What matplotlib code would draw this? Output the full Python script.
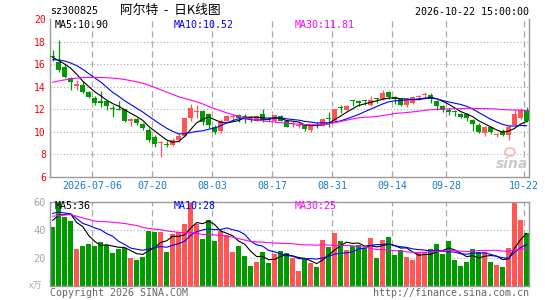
import numpy as np
import pandas as pd
import matplotlib
matplotlib.use('Agg')
import matplotlib.pyplot as plt
from matplotlib.patches import Rectangle, Ellipse

# ---- daily bars (80 trading days) ----
opens = [16.7, 16.15, 15.75, 14.75, 14.1, 14.15, 13.55, 13.0, 12.65, 12.7,
         12.15, 12.0, 12.0, 11.0, 11.1, 10.7, 10.2, 9.53, 9.0, 8.9,
         8.85, 9.24, 9.65, 11.25, 11.75, 11.85, 11.6, 10.45, 10.05, 11.0,
         11.3, 11.45, 11.4, 11.25, 11.0, 11.55, 11.1, 10.95, 11.4, 10.95,
         10.7, 10.55, 10.6, 10.2, 10.6, 10.55, 11.2, 10.95, 12.2, 11.95,
         12.75, 12.65, 12.75, 12.4, 12.95, 12.9, 13.55, 13.1, 12.9, 12.4,
         12.6, 13.05, 13.3, 13.3, 12.75, 12.25, 11.95, 11.8, 11.6, 11.6,
         11.05, 10.65, 9.9, 10.4, 9.7, 10.1, 9.7, 10.65, 11.25, 11.9]
highs = [17.25, 18.15, 16.0, 14.9, 14.6, 14.5, 13.65, 13.15, 13.65, 12.75,
         12.4, 12.75, 12.05, 11.25, 11.2, 10.8, 10.35, 9.7, 9.18, 9.15,
         9.5, 9.9, 11.25, 12.45, 12.4, 11.97, 11.7, 10.6, 11.1, 11.5,
         11.6, 11.55, 11.6, 11.4, 11.45, 12.0, 11.3, 11.5, 11.45, 11.05,
         11.0, 10.95, 10.7, 10.65, 10.85, 11.2, 11.75, 12.05, 12.4, 12.35,
         12.85, 12.85, 12.85, 13.15, 13.0, 13.7, 13.6, 13.2, 13.0, 12.95,
         13.15, 13.25, 13.5, 13.45, 12.85, 12.4, 12.1, 11.95, 11.7, 11.65,
         11.15, 10.75, 10.55, 10.45, 9.9, 10.25, 10.65, 12.0, 12.1, 12.2]
lows = [16.3, 15.3, 14.8, 13.7, 13.7, 13.45, 13.0, 12.4, 12.2, 11.9,
        11.35, 11.95, 10.9, 10.5, 10.65, 10.2, 9.1, 8.65, 7.76, 8.65,
        8.76, 9.1, 9.6, 11.0, 11.2, 10.65, 10.35, 9.85, 9.9, 10.95,
        11.0, 10.85, 10.8, 10.85, 10.95, 10.9, 10.95, 10.85, 10.95, 10.4,
        10.4, 10.35, 10.05, 9.95, 10.3, 10.5, 10.4, 10.85, 11.65, 11.9,
        12.3, 12.3, 12.4, 12.25, 12.6, 12.85, 12.9, 12.5, 12.25, 12.2,
        12.5, 12.85, 12.95, 12.6, 11.95, 11.8, 11.45, 11.4, 11.25, 11.0,
        10.1, 9.9, 9.6, 9.85, 9.55, 9.6, 9.25, 10.55, 11.1, 10.85]
closes = [16.6, 15.45, 14.9, 14.4, 14.2, 13.55, 13.05, 12.6, 12.6, 12.25,
          12.0, 11.95, 10.95, 11.1, 10.8, 10.3, 9.26, 8.94, 9.05, 8.85,
          9.3, 9.6, 11.2, 12.1, 11.8, 10.85, 10.65, 10.0, 11.0, 11.44,
          11.35, 11.2, 11.35, 11.2, 11.4, 11.05, 11.05, 11.45, 11.0, 10.45,
          10.8, 10.65, 10.25, 10.6, 10.55, 11.15, 11.15, 12.0, 12.15, 12.25,
          12.7, 12.6, 12.7, 12.85, 12.9, 13.4, 13.05, 12.9, 12.4, 12.85,
          13.05, 13.1, 13.35, 12.95, 12.25, 11.9, 11.8, 11.75, 11.3, 11.2,
          10.7, 9.97, 10.4, 9.97, 9.8, 9.75, 10.4, 11.6, 11.9, 10.95]
volumes = [42, 62, 49, 46, 26, 28, 30, 28, 31, 29,
           23, 26, 27, 20, 18, 20.5, 39, 38, 38.5, 24,
           37, 38, 44, 62, 44, 33, 47, 32, 39, 36,
           24, 28, 21, 14, 17, 24, 16.5, 22.3, 24.5, 23.3,
           19.7, 10.7, 19.2, 16, 13.1, 32.5, 27.7, 37.9, 31.8, 25.2,
           28.2, 28.9, 26.9, 34.2, 19.9, 32.5, 35, 21.6, 25.2, 20.4,
           18, 23.3, 24, 26, 29.4, 22.8, 31.8, 18, 14.3, 16.7,
           26, 24, 24, 16.7, 15, 13.1, 26.9, 62, 47, 37.9]

# sessions before the window, only used to warm up the moving averages
prev_closes = [12.2, 12.0, 11.8, 12.0, 12.3, 12.6, 12.5, 12.9, 12.8, 13.1,
               13.4, 13.2, 13.8, 14.1, 14.0, 14.6, 14.9, 15.1, 15.2, 15.5,
               15.7, 15.9, 16.15, 16.5, 16.75, 16.9, 16.4, 16.3, 16.8]
prev_volumes = [46, 40, 36, 60, 66, 62, 64, 38, 36, 34,
                38, 40, 42, 38, 62, 60, 58, 46, 50, 54,
                52, 56, 52, 60, 62, 44, 46, 44.5, 56.5]

tick_idx = [7, 17, 27, 37, 47, 57, 66, 79]
tick_labels = ['2026-07-06', '07-20', '08-03', '08-17', '08-31', '09-14', '09-28', '10-22']
price_ticks = [6, 8, 10, 12, 14, 16, 18, 20]
vol_ticks = [20, 40, 60]
price_ma_text = ['MA5:10.90', 'MA10:10.52', 'MA30:11.81']
vol_ma_text = ['MA5:36', 'MA10:28', 'MA30:25']

RED = '#ff5555'
GREEN = '#009900'
MA_COLORS = ['#000000', '#0000ff', '#ff00ff']
GRID = '#aaaaaa'
SPINE = '#999999'
W, H = 545, 300
MONO = 'DejaVu Sans Mono'
plt.rcParams['font.family'] = ['Noto Sans CJK SC', 'DejaVu Sans']


def moving_averages(prev, cur, windows=(5, 10, 30)):
    s = pd.Series(list(prev) + list(cur), dtype=float)
    return [s.rolling(w, min_periods=1).mean().values[len(prev):] for w in windows]


def px(x, y):
    return x / W, 1 - y / H


fig = plt.figure(figsize=(W / 100, H / 100), dpi=100, facecolor='white')
l, r = 50, 529
ax = fig.add_axes([l / W, 1 - 177 / H, (r - l) / W, (177 - 19) / H])
axv = fig.add_axes([l / W, 1 - 285.7 / H, (r - l) / W, (285.7 - 201.5) / H])

x = np.arange(len(closes))
colors = [RED if c >= o else GREEN for o, c in zip(opens, closes)]
xlim = (-0.45, len(closes) - 0.6)
grid_x = [i - 0.4 for i in tick_idx]

# grids first so the marks sit on top
for a in (ax, axv):
    for gx in grid_x:
        a.axvline(gx, color=GRID, ls=(0, (5, 3)), lw=0.9, zorder=0)
for yv in price_ticks[1:-1]:
    ax.axhline(yv, color=GRID, ls=(0, (1, 2)), lw=0.8, zorder=0)
for yv in vol_ticks[:-1]:
    axv.axhline(yv, color=GRID, ls=(0, (1, 2)), lw=0.8, zorder=0)

# candles
bw = 0.84
for i in x:
    c = colors[i]
    ax.vlines(i, lows[i], highs[i], color=c, lw=0.9, zorder=2)
    bottom = min(opens[i], closes[i])
    h = max(abs(opens[i] - closes[i]), 0.09)
    ax.add_patch(Rectangle((i - bw / 2, bottom), bw, h, facecolor=c, edgecolor='none', zorder=3))

for ma, col in zip(moving_averages(prev_closes, closes), MA_COLORS):
    ax.plot(x, ma, color=col, lw=0.8, zorder=4)

# volume
axv.bar(x, volumes, width=bw, color=colors, zorder=2)
for ma, col in zip(moving_averages(prev_volumes, volumes), MA_COLORS):
    axv.plot(x, ma, color=col, lw=0.8, zorder=4)

ax.set_xlim(*xlim)
ax.set_ylim(price_ticks[0], price_ticks[-1])
axv.set_xlim(*xlim)
axv.set_ylim(0, vol_ticks[-1])

ax.set_yticks(price_ticks)
ax.set_yticklabels([str(t) for t in price_ticks], color='#ff0000', family=MONO, fontsize=7)
ax.set_xticks(grid_x)
ax.set_xticklabels(tick_labels, color='#1a7dc8', family=MONO, fontsize=7.2)
ax.tick_params(length=0, pad=3.2)
ax.tick_params(axis='y', pad=3)
axv.set_yticks(vol_ticks)
axv.set_yticklabels([str(t) for t in vol_ticks], color='#aaaaaa', family=MONO, fontsize=7.5)
axv.set_xticks([])
axv.tick_params(length=0, pad=3)

for sp in ax.spines.values():
    sp.set_color(SPINE)
    sp.set_linewidth(1)
ax.spines['top'].set_visible(False)
for sp in axv.spines.values():
    sp.set_color(SPINE)
    sp.set_linewidth(1)

# MA legends
for txt, col, xx in zip(price_ma_text, MA_COLORS, (55, 174, 295)):
    fig.text(*px(xx, 24.5), txt, color=col, family=MONO, fontsize=7.2, va='center', ha='left')
for txt, col, xx in zip(vol_ma_text, MA_COLORS, (55, 174, 295)):
    fig.text(*px(xx, 206), txt, color=col, family=MONO, fontsize=7.2, va='center', ha='left')

# header / footer
fig.text(*px(50, 11.5), 'sz300825', family=MONO, fontsize=7.2, va='center', ha='left')
fig.text(*px(120, 10.5), '阿尔特  -  日K线图', fontsize=9.2, va='center', ha='left')
fig.text(*px(529, 12), '2026-10-22 15:00:00', family=MONO, fontsize=7.2, va='center', ha='right')
fig.text(*px(50, 292.5), 'Copyright 2026 SINA.COM', family=MONO, fontsize=7.2,
         color='#666666', va='center', ha='left')
fig.text(*px(529, 292.5), 'http://finance.sina.com.cn', family=MONO, fontsize=7.2,
         color='#666666', va='center', ha='right')
fig.text(*px(36, 286), 'x万', fontsize=6.5, color='#aaaaaa', va='center', ha='center')

# sina watermark
fig.text(*px(512, 164), 'sina', fontsize=10, style='italic', weight='bold',
         color='#c8c8c8', va='center', ha='center', family='DejaVu Sans')
wx, wy = px(510, 152)
fig.patches.append(Ellipse((wx, wy), 10 / W, 8 / H, transform=fig.transFigure,
                           facecolor='none', edgecolor='#f5b5b5', lw=1.2))

fig.savefig('out.png', dpi=100, facecolor='white')
